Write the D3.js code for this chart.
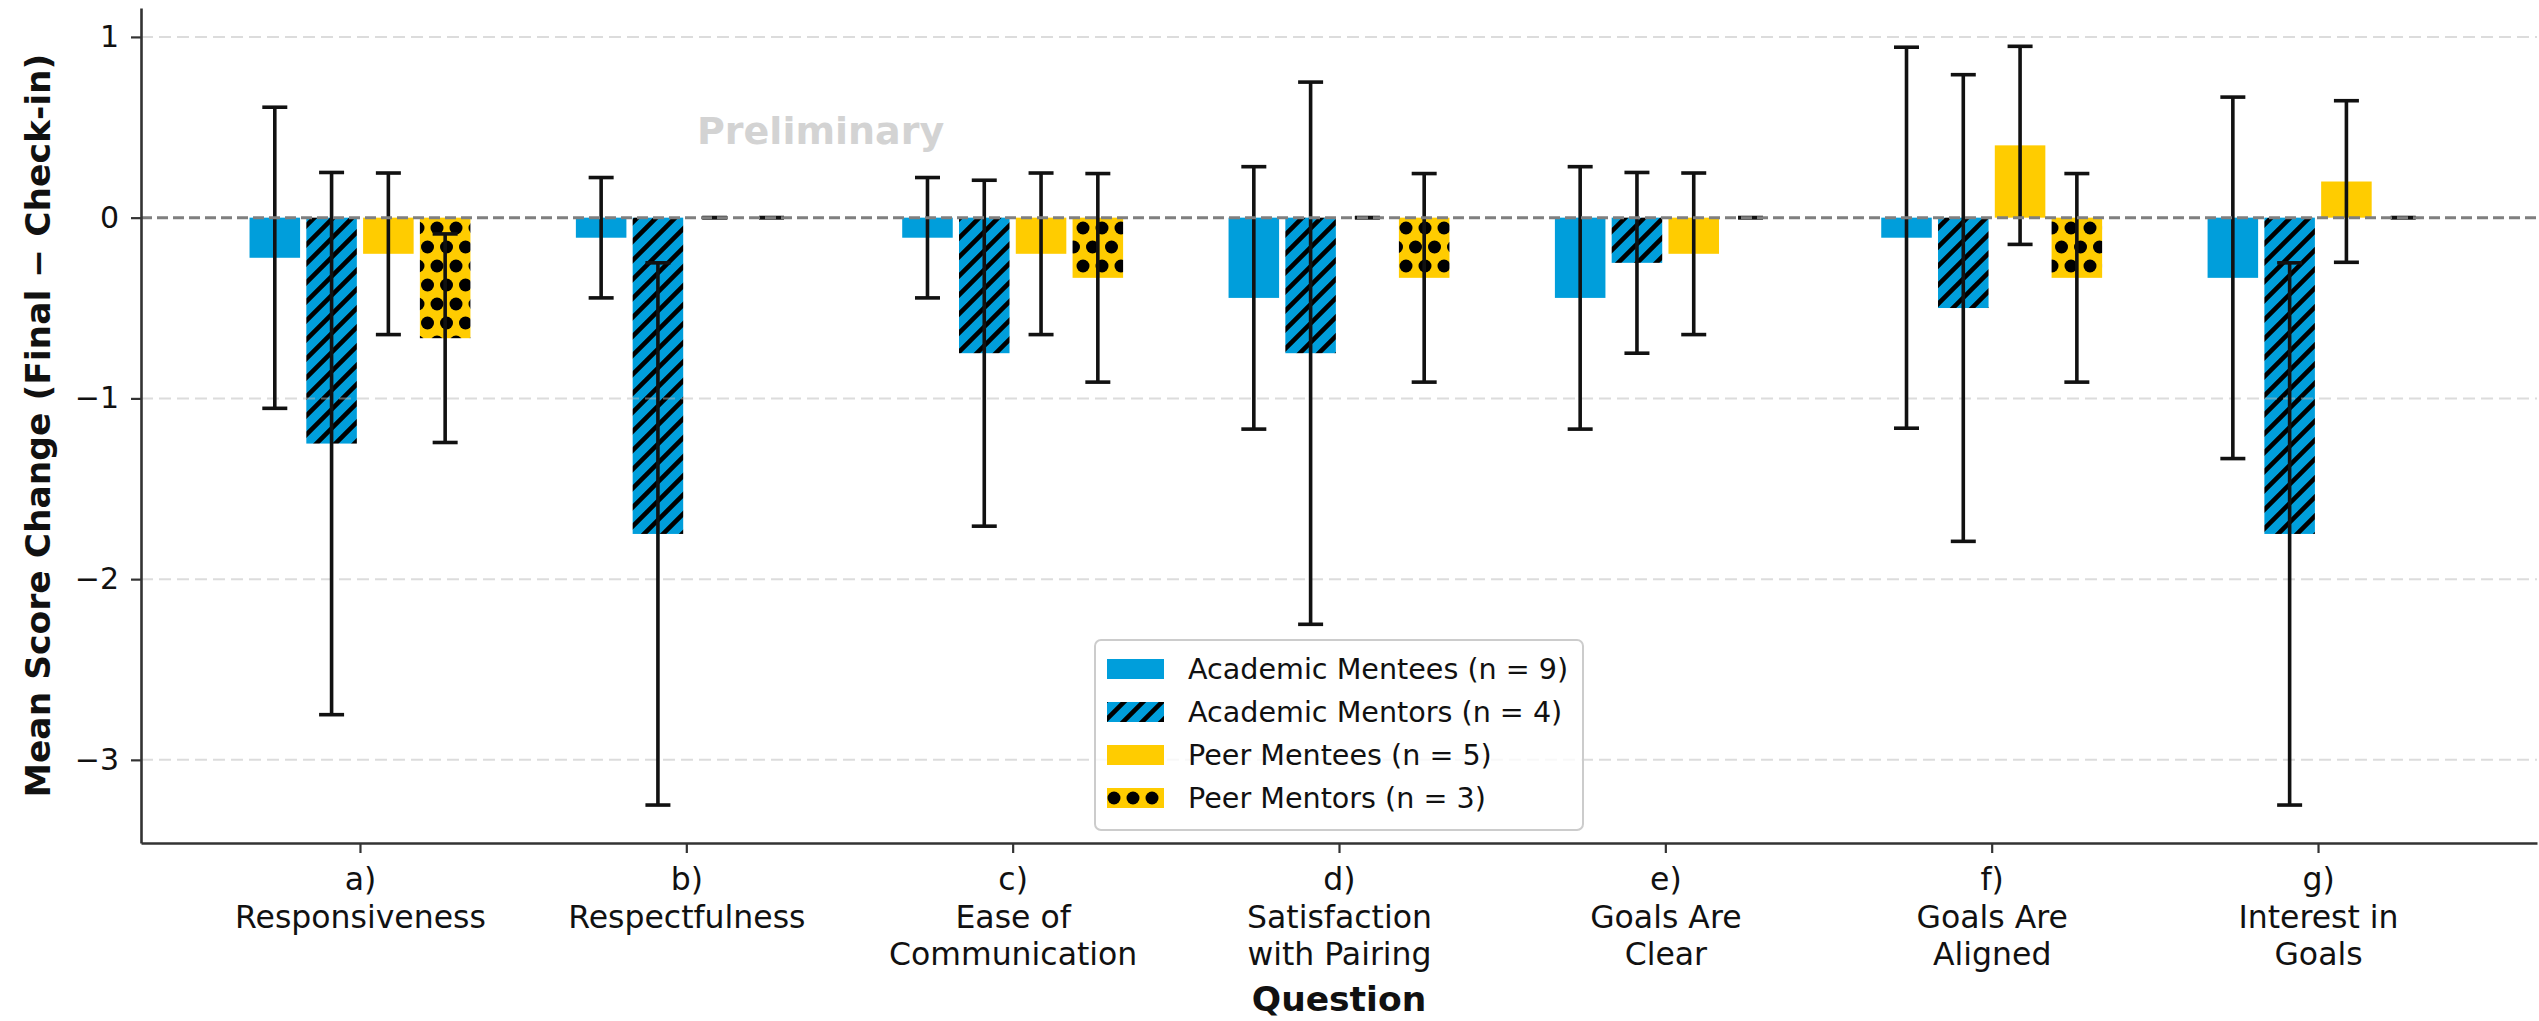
<!DOCTYPE html>
<html>
<head>
<meta charset="utf-8">
<script src="https://cdn.jsdelivr.net/npm/d3@7"></script>
<style>
  body { margin: 0; background: #fff; }
  svg { display: block; }
  text { font-family: "DejaVu Sans", sans-serif; }
</style>
</head>
<body>
<svg id="chart" width="2539" height="1021"></svg>
<script>
// Survey questions (x categories), one line per array entry
const questions = [
  ["a)", "Responsiveness"],
  ["b)", "Respectfulness"],
  ["c)", "Ease of", "Communication"],
  ["d)", "Satisfaction", "with Pairing"],
  ["e)", "Goals Are", "Clear"],
  ["f)", "Goals Are", "Aligned"],
  ["g)", "Interest in", "Goals"]
];

// Group names as shown in the legend
const groupNames = [
  "Academic Mentees (n = 9)",
  "Academic Mentors (n = 4)",
  "Peer Mentees (n = 5)",
  "Peer Mentors (n = 3)"
];

// Mean change (Final − Check-in) per question, and its error (± SD)
const academicMentees    = [-0.222, -0.111, -0.111, -0.444, -0.444, -0.111, -0.333];
const academicMenteesErr = [ 0.833,  0.333,  0.333,  0.726,  0.726,  1.054,  1.000];
const academicMentors    = [-1.25, -1.75, -0.75, -0.75, -0.25, -0.50, -1.75];
const academicMentorsErr = [ 1.50,  1.50,  0.957, 1.50,  0.50,  1.291, 1.50];
const peerMentees        = [-0.2, 0.0, -0.2, 0.0, -0.2, 0.4, 0.2];
const peerMenteesErr     = [0.447, 0.0, 0.447, 0.0, 0.447, 0.548, 0.447];
const peerMentors        = [-0.667, 0.0, -0.333, -0.333, 0.0, -0.333, 0.0];
const peerMentorsErr     = [ 0.577, 0.0,  0.577,  0.577, 0.0,  0.577, 0.0];

const yTicks = [-3, -2, -1, 0, 1];

const BLUE = "#009EDB";
const YELLOW = "#FFCC00";

const seriesValues = [academicMentees, academicMentors, peerMentees, peerMentors];
const seriesErrors = [academicMenteesErr, academicMentorsErr, peerMenteesErr, peerMentorsErr];
const seriesFills = ["solid-blue", "hatch-blue", "solid-yellow", "dots-yellow"];

const svg = d3.select("#chart");
const plot = { left: 141, right: 2537, top: 8, bottom: 843 };

// ---- patterns ----
const defs = svg.append("defs");
const hs = 19;
const hatch = defs.append("pattern")
  .attr("id", "hatch-blue").attr("patternUnits", "userSpaceOnUse")
  .attr("width", hs).attr("height", hs);
hatch.append("rect").attr("width", hs).attr("height", hs).attr("fill", BLUE);
hatch.append("path")
  .attr("d", `M${-hs/4},${hs/4} L${hs/4},${-hs/4} M0,${hs} L${hs},0 M${hs*0.75},${hs*1.25} L${hs*1.25},${hs*0.75}`)
  .attr("stroke", "#000").attr("stroke-width", 4.6).attr("stroke-linecap", "square");

const dots = defs.append("pattern")
  .attr("id", "dots-yellow").attr("patternUnits", "userSpaceOnUse")
  .attr("width", hs).attr("height", hs * 2);
dots.append("rect").attr("width", hs).attr("height", hs * 2).attr("fill", YELLOW);
[[0, 0], [hs, 0], [0, hs * 2], [hs, hs * 2], [hs / 2, hs]].forEach(([cx, cy]) => {
  dots.append("circle").attr("cx", cx).attr("cy", cy).attr("r", 6.5).attr("fill", "#000");
});

const fillFor = key => key === "solid-blue" ? BLUE : key === "solid-yellow" ? YELLOW : `url(#${key})`;

// ---- scales ----
const x = d3.scalePoint()
  .domain(d3.range(questions.length))
  .range([plot.left, plot.right])
  .padding(0.671);

const groupStep = x.step() * 0.174;
const inner = d3.scaleBand()
  .domain(d3.range(groupNames.length))
  .range([-2 * groupStep, 2 * groupStep])
  .paddingInner(0.11)
  .paddingOuter(0.055);

const y = d3.scaleLinear().domain([-3.46, 1.16]).range([plot.bottom, plot.top]);

// ---- bars ----
const records = [];
seriesValues.forEach((vals, s) => {
  vals.forEach((v, q) => records.push({ q, s, v, e: seriesErrors[s][q] }));
});

svg.append("g").attr("class", "bars")
  .selectAll("rect")
  .data(records)
  .join("rect")
  .attr("x", d => x(d.q) + inner(d.s))
  .attr("width", inner.bandwidth())
  .attr("y", d => y(Math.max(0, d.v)))
  .attr("height", d => Math.abs(y(d.v) - y(0)))
  .attr("fill", d => fillFor(seriesFills[d.s]));

// ---- horizontal grid ----
svg.append("g").attr("class", "grid")
  .selectAll("line")
  .data(yTicks.filter(t => t !== 0))
  .join("line")
  .attr("x1", plot.left).attr("x2", plot.right)
  .attr("y1", d => y(d)).attr("y2", d => y(d))
  .attr("stroke", "rgba(185,185,185,0.5)")
  .attr("stroke-width", 2)
  .attr("stroke-dasharray", "12,6");

// ---- error bars ----
const eb = svg.append("g").attr("class", "errorbars")
  .attr("stroke", "#111").attr("stroke-width", 3.6);
const capHalf = 12.5;
const ebGroups = eb.selectAll("g").data(records).join("g")
  .attr("transform", d => `translate(${x(d.q) + inner(d.s) + inner.bandwidth() / 2},0)`);
ebGroups.append("line")
  .attr("x1", 0).attr("x2", 0)
  .attr("y1", d => y(d.v + d.e)).attr("y2", d => y(d.v - d.e));
ebGroups.append("line")
  .attr("x1", -capHalf).attr("x2", capHalf)
  .attr("y1", d => y(d.v + d.e)).attr("y2", d => y(d.v + d.e));
ebGroups.append("line")
  .attr("x1", -capHalf).attr("x2", capHalf)
  .attr("y1", d => y(d.v - d.e)).attr("y2", d => y(d.v - d.e));

// ---- zero reference line ----
svg.append("line")
  .attr("x1", plot.left).attr("x2", plot.right)
  .attr("y1", y(0)).attr("y2", y(0))
  .attr("stroke", "#7f7f7f").attr("stroke-width", 3)
  .attr("stroke-dasharray", "11,5");

// ---- axes ----
const yAxis = svg.append("g")
  .attr("transform", `translate(${plot.left},0)`)
  .call(d3.axisLeft(y).tickValues(yTicks).tickSize(10).tickSizeOuter(0).tickPadding(12).tickFormat(d3.format("d")));
yAxis.select(".domain").attr("stroke", "#333").attr("stroke-width", 2.6);
yAxis.selectAll(".tick line").attr("stroke", "#333").attr("stroke-width", 2.2);
yAxis.selectAll(".tick text")
  .attr("font-size", 30).attr("fill", "#111")
  .attr("font-family", "DejaVu Sans");

const xAxis = svg.append("g")
  .attr("transform", `translate(0,${plot.bottom})`)
  .call(d3.axisBottom(x).tickSize(10).tickSizeOuter(0).tickFormat(""));
xAxis.select(".domain").attr("stroke", "#333").attr("stroke-width", 2.6);
xAxis.selectAll(".tick line").attr("stroke", "#333").attr("stroke-width", 2.2);
xAxis.selectAll(".tick text").remove();
xAxis.selectAll(".tick").append("text")
  .attr("text-anchor", "middle")
  .attr("font-size", 31.5)
  .attr("fill", "#111")
  .attr("font-family", "DejaVu Sans")
  .each(function (d) {
    const t = d3.select(this);
    questions[d].forEach((line, i) => {
      t.append("tspan").attr("x", 0).attr("y", 47 + i * 37.5).text(line);
    });
  });

// ---- axis titles ----
svg.append("text")
  .attr("transform", `translate(50,${(plot.top + plot.bottom) / 2}) rotate(-90)`)
  .attr("text-anchor", "middle")
  .attr("font-size", 34.5).attr("font-weight", "bold").attr("fill", "#111")
  .text("Mean Score Change (Final \u2212 Check-in)");

svg.append("text")
  .attr("x", (plot.left + plot.right) / 2).attr("y", 1011)
  .attr("text-anchor", "middle")
  .attr("font-size", 34.5).attr("font-weight", "bold").attr("fill", "#111")
  .text("Question");

// ---- watermark ----
svg.append("text")
  .attr("x", 697).attr("y", 144)
  .attr("font-size", 38).attr("font-weight", "bold").attr("fill", "#d3d3d3")
  .text("Preliminary");

// ---- legend ----
const lg = svg.append("g").attr("transform", "translate(1095,640)");
lg.append("rect")
  .attr("width", 488).attr("height", 190).attr("rx", 6)
  .attr("fill", "rgba(255,255,255,0.8)")
  .attr("stroke", "#cccccc").attr("stroke-width", 2);
const rows = lg.selectAll("g.row").data(groupNames).join("g")
  .attr("class", "row")
  .attr("transform", (d, i) => `translate(0,${29 + i * 43})`);
rows.append("rect")
  .attr("x", 12).attr("y", -10).attr("width", 57).attr("height", 20)
  .attr("fill", (d, i) => fillFor(seriesFills[i]));
rows.append("text")
  .attr("x", 93).attr("y", 10)
  .attr("font-size", 28.6).attr("fill", "#111")
  .text(d => d);
</script>
</body>
</html>
